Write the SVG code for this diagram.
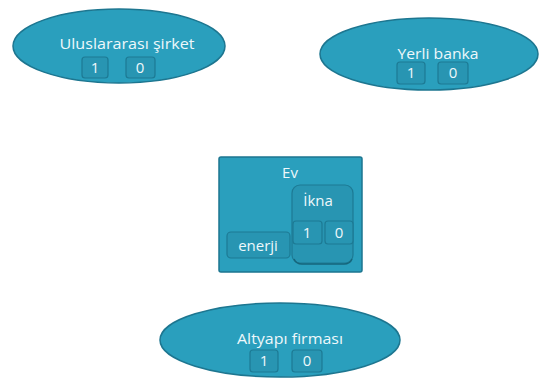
<svg xmlns="http://www.w3.org/2000/svg" width="549" height="385" viewBox="0 0 549 385">
<style>
.ell{fill:#2a9fbd;stroke:#1d7690;stroke-width:1.5}
.box{fill:#2895b2;stroke:#1d7a94;stroke-width:1.2}
.ev{fill:#2a9fbd;stroke:#1d7690;stroke-width:1.5}
.t{font-family:"Open Sans","DejaVu Sans",sans-serif;font-size:15px;fill:#eef8fb;text-anchor:middle}
</style>
<rect width="549" height="385" fill="#ffffff"/>
<g id="uluslararasi">
<ellipse class="ell" cx="119" cy="46" rx="106" ry="37"/>
<text class="t" x="127" y="49" textLength="135" lengthAdjust="spacingAndGlyphs">Uluslararası şirket</text>
<rect class="box" x="82" y="57" width="26" height="21" rx="3"/>
<text class="t" x="95" y="73">1</text>
<rect class="box" x="126" y="57" width="29" height="21" rx="3"/>
<text class="t" x="140" y="73">0</text>
</g>
<g id="yerli">
<ellipse class="ell" cx="429" cy="54" rx="109" ry="36"/>
<text class="t" x="438" y="59" textLength="81" lengthAdjust="spacingAndGlyphs">Yerli banka</text>
<rect class="box" x="397" y="62" width="28" height="22" rx="3"/>
<text class="t" x="411" y="78">1</text>
<rect class="box" x="438" y="62" width="30" height="22" rx="3"/>
<text class="t" x="453" y="78">0</text>
</g>
<g id="ev">
<rect class="ev" x="219" y="157" width="143" height="115" rx="2"/>
<text class="t" x="290" y="178">Ev</text>
<rect class="box" x="227" y="232" width="63" height="26" rx="4"/>
<text class="t" x="258" y="251">enerji</text>
<g id="ikna">
<rect class="box" x="292" y="185" width="61" height="78" rx="8"/>
<text class="t" x="318" y="206">İkna</text>
<rect class="box" x="293" y="221" width="29" height="23" rx="3"/>
<text class="t" x="307" y="238">1</text>
<rect class="box" x="325" y="221" width="28" height="23" rx="3"/>
<text class="t" x="339" y="238">0</text>
<path d="M294 259 Q296 264 302 264 L344 264 Q350 264 352 259" fill="none" stroke="#16667c" stroke-width="1.5"/>
</g>
</g>
<g id="altyapi">
<ellipse class="ell" cx="280" cy="340" rx="120" ry="37"/>
<text class="t" x="290" y="344" textLength="106" lengthAdjust="spacingAndGlyphs">Altyapı firması</text>
<rect class="box" x="250" y="350" width="28" height="22" rx="3"/>
<text class="t" x="264" y="366">1</text>
<rect class="box" x="292" y="350" width="30" height="22" rx="3"/>
<text class="t" x="307" y="366">0</text>
</g>
<g id="connectors"></g>
</svg>
